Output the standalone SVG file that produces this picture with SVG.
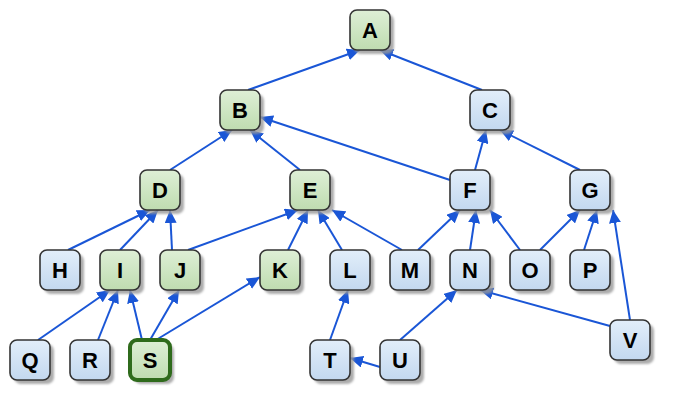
<svg xmlns="http://www.w3.org/2000/svg" width="677" height="410" viewBox="0 0 677 410">
<defs>
<linearGradient id="gg" x1="0" y1="0" x2="0" y2="1"><stop offset="0" stop-color="#deefd6"/><stop offset="1" stop-color="#bfdcb0"/></linearGradient>
<linearGradient id="gb" x1="0" y1="0" x2="0" y2="1"><stop offset="0" stop-color="#e2eefa"/><stop offset="1" stop-color="#c3d8ef"/></linearGradient>
<filter id="sh" x="-20%" y="-20%" width="150%" height="150%"><feGaussianBlur stdDeviation="0.8"/></filter>
<marker id="ah" markerUnits="userSpaceOnUse" markerWidth="14" markerHeight="12" refX="13" refY="6" orient="auto"><path d="M0,0 L13,6 L0,12 z" fill="#1a56d6"/></marker>
</defs>
<style>
.s{fill:#999;opacity:0.8;filter:url(#sh)}
.g{fill:url(#gg);stroke:#333;stroke-width:1.6}
.b{fill:url(#gb);stroke:#333;stroke-width:1.6}
.sel{fill:url(#gg);stroke:#2f6b1c;stroke-width:4}
text{font-family:"Liberation Sans",Arial,sans-serif;font-weight:bold;font-size:22px;text-anchor:middle;fill:#000}
#edges line{stroke:#1a56d6;stroke-width:2;marker-end:url(#ah)}
</style>
<rect width="677" height="410" fill="#fff"/>
<g id="edges">
<line x1="248" y1="90" x2="360" y2="50"/>
<line x1="482" y1="90" x2="380" y2="50"/>
<line x1="170" y1="170" x2="232" y2="130"/>
<line x1="300" y1="170" x2="250" y2="130"/>
<line x1="450" y1="180" x2="260" y2="117"/>
<line x1="475" y1="170" x2="486" y2="130"/>
<line x1="580" y1="170" x2="500" y2="130"/>
<line x1="68" y1="250" x2="150" y2="210"/>
<line x1="120" y1="250" x2="158" y2="210"/>
<line x1="172" y1="250" x2="170" y2="210"/>
<line x1="188" y1="250" x2="298" y2="210"/>
<line x1="288" y1="250" x2="308" y2="210"/>
<line x1="342" y1="250" x2="318" y2="210"/>
<line x1="402" y1="250" x2="332" y2="210"/>
<line x1="418" y1="250" x2="460" y2="210"/>
<line x1="470" y1="250" x2="476" y2="210"/>
<line x1="520" y1="250" x2="490" y2="210"/>
<line x1="540" y1="250" x2="580" y2="210"/>
<line x1="584" y1="250" x2="597" y2="210"/>
<line x1="630" y1="320" x2="613" y2="210"/>
<line x1="38" y1="340" x2="110" y2="290"/>
<line x1="98" y1="340" x2="118" y2="290"/>
<line x1="142" y1="340" x2="130" y2="290"/>
<line x1="150" y1="340" x2="179" y2="290"/>
<line x1="156" y1="340" x2="260" y2="277"/>
<line x1="330" y1="340" x2="348" y2="290"/>
<line x1="380" y1="367" x2="350" y2="358"/>
<line x1="400" y1="340" x2="457" y2="290"/>
<line x1="610" y1="326" x2="480" y2="290"/>
</g>
<g id="A"><rect class="s" x="354" y="14" width="40" height="40" rx="7"/><rect class="g" x="350" y="10" width="40" height="40" rx="7"/><text x="370" y="38">A</text></g>
<g id="B"><rect class="s" x="224" y="94" width="40" height="40" rx="7"/><rect class="g" x="220" y="90" width="40" height="40" rx="7"/><text x="240" y="118">B</text></g>
<g id="C"><rect class="s" x="474" y="94" width="40" height="40" rx="7"/><rect class="b" x="470" y="90" width="40" height="40" rx="7"/><text x="490" y="118">C</text></g>
<g id="D"><rect class="s" x="144" y="174" width="40" height="40" rx="7"/><rect class="g" x="140" y="170" width="40" height="40" rx="7"/><text x="160" y="198">D</text></g>
<g id="E"><rect class="s" x="294" y="174" width="40" height="40" rx="7"/><rect class="g" x="290" y="170" width="40" height="40" rx="7"/><text x="310" y="198">E</text></g>
<g id="F"><rect class="s" x="454" y="174" width="40" height="40" rx="7"/><rect class="b" x="450" y="170" width="40" height="40" rx="7"/><text x="470" y="198">F</text></g>
<g id="G"><rect class="s" x="574" y="174" width="40" height="40" rx="7"/><rect class="b" x="570" y="170" width="40" height="40" rx="7"/><text x="590" y="198">G</text></g>
<g id="H"><rect class="s" x="44" y="254" width="40" height="40" rx="7"/><rect class="b" x="40" y="250" width="40" height="40" rx="7"/><text x="60" y="278">H</text></g>
<g id="I"><rect class="s" x="104" y="254" width="40" height="40" rx="7"/><rect class="g" x="100" y="250" width="40" height="40" rx="7"/><text x="120" y="278">I</text></g>
<g id="J"><rect class="s" x="164" y="254" width="40" height="40" rx="7"/><rect class="g" x="160" y="250" width="40" height="40" rx="7"/><text x="180" y="278">J</text></g>
<g id="K"><rect class="s" x="264" y="254" width="40" height="40" rx="7"/><rect class="g" x="260" y="250" width="40" height="40" rx="7"/><text x="280" y="278">K</text></g>
<g id="L"><rect class="s" x="334" y="254" width="40" height="40" rx="7"/><rect class="b" x="330" y="250" width="40" height="40" rx="7"/><text x="350" y="278">L</text></g>
<g id="M"><rect class="s" x="394" y="254" width="40" height="40" rx="7"/><rect class="b" x="390" y="250" width="40" height="40" rx="7"/><text x="410" y="278">M</text></g>
<g id="N"><rect class="s" x="454" y="254" width="40" height="40" rx="7"/><rect class="b" x="450" y="250" width="40" height="40" rx="7"/><text x="470" y="278">N</text></g>
<g id="O"><rect class="s" x="514" y="254" width="40" height="40" rx="7"/><rect class="b" x="510" y="250" width="40" height="40" rx="7"/><text x="530" y="278">O</text></g>
<g id="P"><rect class="s" x="574" y="254" width="40" height="40" rx="7"/><rect class="b" x="570" y="250" width="40" height="40" rx="7"/><text x="590" y="278">P</text></g>
<g id="Q"><rect class="s" x="14" y="344" width="40" height="40" rx="7"/><rect class="b" x="10" y="340" width="40" height="40" rx="7"/><text x="30" y="368">Q</text></g>
<g id="R"><rect class="s" x="74" y="344" width="40" height="40" rx="7"/><rect class="b" x="70" y="340" width="40" height="40" rx="7"/><text x="90" y="368">R</text></g>
<g id="S"><rect class="s" x="134" y="344" width="40" height="40" rx="7"/><rect class="sel" x="130" y="340" width="40" height="40" rx="7"/><text x="150" y="368">S</text></g>
<g id="T"><rect class="s" x="314" y="344" width="40" height="40" rx="7"/><rect class="b" x="310" y="340" width="40" height="40" rx="7"/><text x="330" y="368">T</text></g>
<g id="U"><rect class="s" x="384" y="344" width="40" height="40" rx="7"/><rect class="b" x="380" y="340" width="40" height="40" rx="7"/><text x="400" y="368">U</text></g>
<g id="V"><rect class="s" x="614" y="324" width="40" height="40" rx="7"/><rect class="b" x="610" y="320" width="40" height="40" rx="7"/><text x="630" y="348">V</text></g>
</svg>
